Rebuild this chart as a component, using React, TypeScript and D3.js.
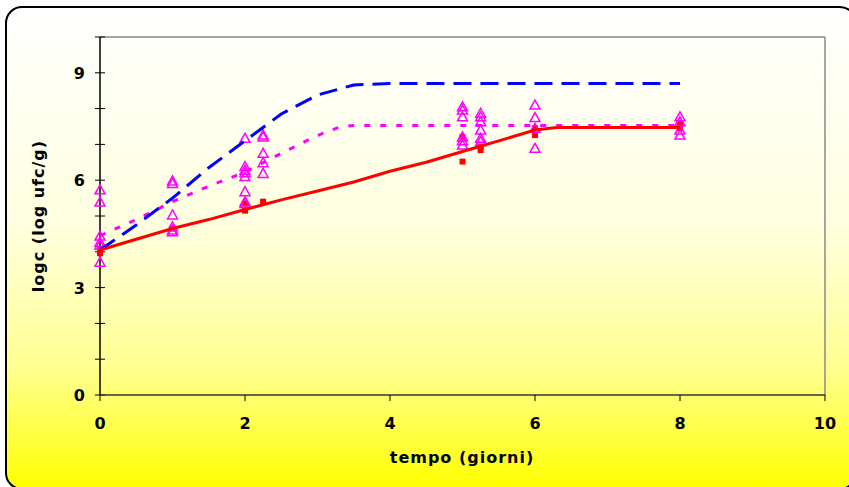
import React from "react";
import * as d3 from "d3";

// Model curves
const redX = [0, 0.5, 1, 1.5, 2, 2.5, 3, 3.5, 4, 4.5, 5, 5.5, 6, 6.3, 7, 8];
const redY = [4.05, 4.35, 4.65, 4.9, 5.18, 5.45, 5.7, 5.95, 6.25, 6.5, 6.8, 7.1, 7.4, 7.47, 7.47, 7.47];

const blueX = [0, 0.5, 1, 1.5, 2, 2.5, 3, 3.5, 4, 5, 6, 7, 8];
const blueY = [4.05, 4.75, 5.5, 6.35, 7.1, 7.85, 8.38, 8.66, 8.7, 8.7, 8.7, 8.7, 8.7];

const magX = [0, 0.5, 1, 1.5, 2, 2.5, 3, 3.3, 3.5, 5, 6, 7, 8];
const magY = [4.45, 4.9, 5.4, 5.83, 6.23, 6.75, 7.25, 7.48, 7.53, 7.53, 7.53, 7.53, 7.53];

// Observed data: red squares
const sqX = [0, 0, 1, 2, 2, 2.25, 5, 5, 5.25, 5.25, 6, 6, 8, 8];
const sqY = [3.96, 4.05, 4.65, 5.15, 5.35, 5.4, 6.52, 7.21, 6.84, 6.94, 7.26, 7.45, 7.45, 7.59];

// Observed data: magenta triangles
const triX = [
  0, 0, 0, 0, 0, 0,
  1, 1, 1, 1, 1, 1,
  2, 2, 2, 2, 2, 2, 2, 2,
  2.25, 2.25, 2.25, 2.25, 2.25,
  5, 5, 5, 5, 5, 5,
  5.25, 5.25, 5.25, 5.25, 5.25, 5.25,
  6, 6, 6, 6,
  8, 8, 8, 8,
];
const triY = [
  5.73, 5.39, 4.44, 4.27, 4.19, 3.71,
  5.98, 5.91, 5.03, 4.7, 4.61, 4.56,
  7.17, 6.38, 6.28, 6.21, 6.1, 5.68, 5.4, 5.35,
  7.26, 7.21, 6.75, 6.49, 6.19,
  8.05, 7.96, 7.77, 7.21, 7.1, 6.98,
  7.87, 7.77, 7.63, 7.4, 7.17, 7.08,
  8.1, 7.75, 7.45, 6.89,
  7.77, 7.63, 7.4, 7.26,
];

const xTicks = [0, 2, 4, 6, 8, 10];
const yTicksMajor = [0, 3, 6, 9];
const yTicksMinor = [0, 1, 2, 3, 4, 5, 6, 7, 8, 9, 10];

const W = 849;
const H = 487;
const L = 100, R = 825, T = 37, B = 395;

export default function App() {
  const x = d3.scaleLinear().domain([0, 10]).range([L, R]);
  const y = d3.scaleLinear().domain([0, 10]).range([B, T]);
  const line = d3
    .line<[number, number]>()
    .x((d) => x(d[0]))
    .y((d) => y(d[1]));
  const pts = (xs: number[], ys: number[]) => xs.map((v, i) => [v, ys[i]] as [number, number]);
  const font = "'DejaVu Sans', Verdana, sans-serif";
  const tri = (cx: number, cy: number) => {
    const s = 5;
    return `M${cx},${cy - s}L${cx + s},${cy + s * 0.8}L${cx - s},${cy + s * 0.8}Z`;
  };
  return (
    <svg
      width={W}
      height={H}
      style={{ position: "absolute", left: 0, top: 0, display: "block" }}
    >
      <defs>
        <linearGradient id="bg" x1="0" y1="0" x2="0" y2="1">
          <stop offset="0" stopColor="#FFFFFF" />
          <stop offset="0.45" stopColor="#FFFFE0" />
          <stop offset="0.75" stopColor="#FFFF90" />
          <stop offset="1" stopColor="#FFFF00" />
        </linearGradient>
      </defs>
      <rect x={0} y={0} width={W} height={H} fill="#FFFFFF" />
      <rect
        x={6}
        y={7}
        width={850}
        height={482}
        rx={16}
        ry={16}
        fill="url(#bg)"
        stroke="#000"
        strokeWidth={2}
      />
      {/* plot area border */}
      <line x1={L} y1={T} x2={R} y2={T} stroke="#888" strokeWidth={1.5} />
      <line x1={R} y1={T} x2={R} y2={B} stroke="#888" strokeWidth={1.5} />
      {/* y axis */}
      <line x1={L} y1={T} x2={L} y2={B} stroke="#000" strokeWidth={1.5} />
      {yTicksMinor.map((t) => (
        <line key={"ym" + t} x1={L - 5} x2={L + 5} y1={y(t)} y2={y(t)} stroke="#000" strokeWidth={1} />
      ))}
      {yTicksMajor.map((t) => (
        <text
          key={"yl" + t}
          x={L - 15}
          y={y(t) + 6}
          textAnchor="end"
          fontFamily={font}
          fontWeight="bold"
          fontSize={16}
        >
          {t}
        </text>
      ))}
      {/* x axis */}
      <line x1={L} y1={B} x2={R} y2={B} stroke="#333" strokeWidth={1.5} />
      {xTicks.map((t) => (
        <g key={"x" + t}>
          <line x1={x(t)} x2={x(t)} y1={B} y2={B + 6} stroke="#000" strokeWidth={1} />
          <text
            x={x(t)}
            y={B + 34}
            textAnchor="middle"
            fontFamily={font}
            fontWeight="bold"
            fontSize={16}
          >
            {t}
          </text>
        </g>
      ))}
      <text
        x={462}
        y={463}
        textAnchor="middle"
        fontFamily={font}
        fontWeight="bold"
        fontSize={16}
        letterSpacing={1}
      >
        tempo (giorni)
      </text>
      <text
        transform={`translate(44,${(T + B) / 2}) rotate(-90)`}
        textAnchor="middle"
        fontFamily={font}
        fontWeight="bold"
        fontSize={16}
        letterSpacing={1}
      >
        logc (log ufc/g)
      </text>
      {/* squares */}
      {sqX.map((v, i) => (
        <rect key={"s" + i} x={x(v) - 3} y={y(sqY[i]) - 3} width={6} height={6} fill="#FF0000" />
      ))}
      {/* triangles */}
      {triX.map((v, i) => (
        <path key={"t" + i} d={tri(x(v), y(triY[i]))} fill="none" stroke="#FF00FF" strokeWidth={1.5} />
      ))}
      {/* model lines */}
      <path d={line(pts(magX, magY)) || ""} fill="none" stroke="#FF00FF" strokeWidth={3} strokeDasharray="6,10" />
      <path d={line(pts(blueX, blueY)) || ""} fill="none" stroke="#0000FF" strokeWidth={3} strokeDasharray="18,9" />
      <path d={line(pts(redX, redY)) || ""} fill="none" stroke="#FF0000" strokeWidth={3} />
    </svg>
  );
}
